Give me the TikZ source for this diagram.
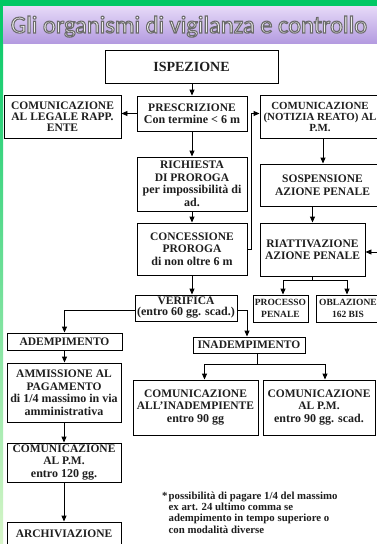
\documentclass[tikz,border=0pt]{standalone}
\usepackage{fontspec}
\setmainfont{Liberation Serif}
\newfontfamily\titlefont{Carlito}
\usetikzlibrary{arrows.meta,calc}
\definecolor{topgreen}{RGB}{0,200,100}
\definecolor{stripbot}{RGB}{215,245,200}
\definecolor{bandtop}{RGB}{230,218,248}
\definecolor{bandbot}{RGB}{180,155,224}
\definecolor{ink}{RGB}{30,30,30}
\newcommand{\lc}[1]{{\fontsize{12}{12.5}\selectfont #1}}
\newcommand{\ttl}{Gli organismi di vigilanza e controllo}
\newcommand{\outlined}[1]{\special{pdf:literal direct 2 Tr 1.1 w 0.42 G}#1\special{pdf:literal direct 0 Tr}}
\tikzset{
  box/.style={draw=black, line width=0.9pt, align=center, inner sep=0pt, text=ink,
    font=\fontsize{11.5}{12.5}\selectfont\bfseries},
  tight/.style={font=\fontsize{11.5}{11}\selectfont\bfseries},
  smallbox/.style={font=\fontsize{9.5}{12}\selectfont\bfseries},
  ln/.style={line width=0.9pt},
  arr/.style={line width=0.9pt, -{Triangle[length=6pt,width=5pt]}},
  ttlstyle/.style={anchor=base, inner sep=0pt, text=white, font=\titlefont\fontsize{24.5}{26}\selectfont}
}
\begin{document}
\begin{tikzpicture}[x=1pt,y=-1pt]
\useasboundingbox (0,0) rectangle (377,544);
\clip (0,0) rectangle (377,544);
\fill[white] (0,0) rectangle (377,544);
% frame
\shade[top color=topgreen, bottom color=stripbot] (0,0) rectangle (3,544);
\fill[topgreen] (0,0) rectangle (377,6);
\shade[top color=bandtop, bottom color=bandbot] (3,6) rectangle (377,43);
% title
\node[ttlstyle] (title) at (189,33) {\outlined{\ttl}};

% boxes
\node[box, minimum width=173, minimum height=33, font=\fontsize{14}{16}\selectfont\bfseries] (ispezione) at (191.5,66.5) {ISPEZIONE};
\node[box, minimum width=110, minimum height=35] (prescr) at (192,113.5) {PRESCRIZIONE\\\lc{Con termine < 6 m}};
\node[box, tight, minimum width=117, minimum height=43] (legale) at (62.5,116.5) {COMUNICAZIONE\\AL LEGALE RAPP.\\ENTE};
\node[box, minimum width=120, minimum height=43, font=\fontsize{10.9}{11}\selectfont\bfseries] (notizia) at (320,117) {COMUNICAZIONE\\(NOTIZIA REATO) AL\\P.M.};
\node[box, minimum width=110, minimum height=54] (richiesta) at (192,184) {RICHIESTA\\DI PROROGA\\\lc{per impossibilità di}\\\lc{ad.}};
\node[box, minimum width=110, minimum height=52] (concessione) at (192,249) {CONCESSIONE\\PROROGA\\\lc{di non oltre 6 m}};
\node[box, minimum width=125, minimum height=42] (sospensione) at (322.5,185) {SOSPENSIONE\\AZIONE PENALE};
\node[box, minimum width=105, minimum height=53] (riattivazione) at (312.5,249.5) {RIATTIVAZIONE\\AZIONE PENALE};
\node[box, smallbox, minimum width=55, minimum height=27] (processo) at (280.5,308.5) {PROCESSO\\PENALE};
\node[box, smallbox, minimum width=64, minimum height=27] (oblazione) at (348,308.5) {OBLAZIONE\\162 BIS};
\node[box, tight, minimum width=102, minimum height=26] (verifica) at (186,308) {VERIFICA\\\lc{(entro 60 gg. scad.)}};
\node[box, minimum width=115, minimum height=17] (adempimento) at (64.5,341.5) {ADEMPIMENTO};
\node[box, minimum width=112, minimum height=16] (inadempimento) at (249,345) {INADEMPIMENTO};
\node[box, minimum width=114, minimum height=59] (ammissione) at (64,392.5) {AMMISSIONE AL\\PAGAMENTO\\\lc{di 1/4 massimo in via}\\\lc{amministrativa}};
\node[box, minimum width=125, minimum height=55] (cominad) at (195.5,407.5) {COMUNICAZIONE\\ALL’INADEMPIENTE\\\lc{entro 90 gg}};
\node[box, minimum width=112, minimum height=55] (compm90) at (319,407.5) {COMUNICAZIONE\\AL P.M.\\\lc{entro 90 gg. scad.}};
\node[box, minimum width=114, minimum height=39] (compm120) at (64,462.5) {COMUNICAZIONE\\AL P.M.\\\lc{entro 120 gg.}};
\node[box, minimum width=114, minimum height=26] (archiv) at (64,535) {\raisebox{2pt}{ARCHIVIAZIONE}};

% footnote
\node[anchor=north west, inner sep=0pt, align=left, text=ink,
  font=\fontsize{10.8}{11.3}\selectfont\bfseries] (nota) at (162,491.5)
  {\makebox[6.5pt][l]{*}possibilità di pagare 1/4 del massimo\\
   \hspace*{6.5pt}ex art. 24 ultimo comma se\\
   \hspace*{6.5pt}adempimento in tempo superiore o\\
   \hspace*{6.5pt}con modalità diverse};

% connectors
\draw[arr] (prescr.north |- ispezione.south) -- (prescr.north);
\draw[arr] (prescr.west) -- (prescr.west -| legale.east);
\draw[arr] (prescr.south) -- (richiesta.north);
\draw[arr] (richiesta.south) -- (concessione.north);
\draw[arr] (concessione.east) -- ++(3.5,0) |- (prescr.east -| notizia.west);
\draw[arr] (concessione.south) -- (concessione.south |- verifica.north);
\draw[arr] ([xshift=3pt]notizia.south) -- ([xshift=3pt]notizia.south |- sospensione.north);
\draw[arr] (riattivazione.north |- sospensione.south) -- (riattivazione.north);
\coordinate (redge) at (380,252);
\draw[arr] (redge) -- (redge -| riattivazione.east);
\draw[ln] (riattivazione.south) -- ++(0,4) coordinate (rsplit);
\draw[arr] (rsplit) -| ([xshift=2.5pt]processo.north);
\draw[arr] (rsplit) -| ([xshift=-1pt]oblazione.north);
\draw[arr] ([yshift=-2pt]verifica.west) -| (adempimento.north);
\draw[arr] ([yshift=-2pt]verifica.east) -| ([xshift=-2pt]inadempimento.north);
\draw[arr] (adempimento.south) -- (adempimento.south |- ammissione.north);
\draw[arr] (ammissione.south) -- (compm120.north);
\draw[arr] (compm120.south) -- (archiv.north);
\draw[ln] ([xshift=8pt]inadempimento.south) -- ++(0,11) coordinate (isplit);
\draw[arr] (isplit) -| ([xshift=9pt]cominad.north);
\draw[arr] (isplit) -| ([xshift=6pt]compm90.north);
\end{tikzpicture}
\end{document}
